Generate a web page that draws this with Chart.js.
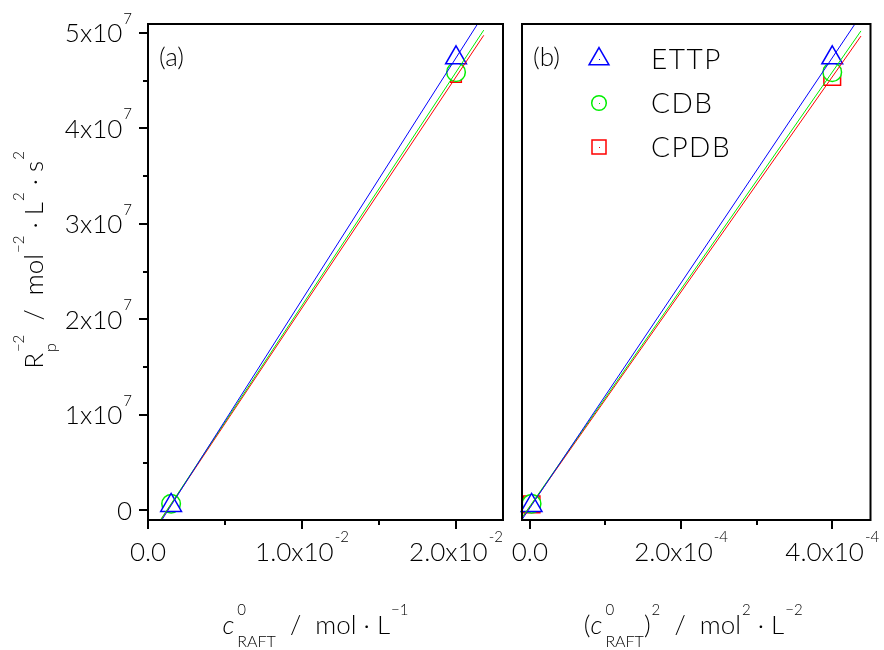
<!DOCTYPE html>
<html>
<head>
<meta charset="utf-8">
<script src="https://cdn.jsdelivr.net/npm/chart.js@4/dist/chart.umd.min.js"></script>
<style>
  html, body { margin: 0; padding: 0; background: #fff; }
  #wrap { position: relative; width: 884px; height: 650px; }
  #wrap canvas { position: absolute; left: 0; top: 0; }
</style>
</head>
<body>
<div id="wrap">
  <canvas id="chartA" width="884" height="650"></canvas>
  <canvas id="chartB" width="884" height="650"></canvas>
</div>
<script>
// Data
const seriesNames = ['ETTP', 'CDB', 'CPDB'];
const cRaft = [0.0015, 0.02];            // c0 RAFT / mol L-1
const cRaftSquared = [2.25e-6, 4.0e-4];  // (c0 RAFT)^2 / mol2 L-2
const rpEttp = [5.3e5, 4.74e7];          // Rp^-2
const rpCdb = [7.0e5, 4.59e7];
const rpCpdb = [6.3e5, 4.54e7];

// Tick values and labels ([mantissa, exponent])
const yTicks = [0, 1e7, 2e7, 3e7, 4e7, 5e7];
const yTickLabels = [['0', ''], ['1x10', '7'], ['2x10', '7'], ['3x10', '7'], ['4x10', '7'], ['5x10', '7']];
const yMinorTicks = [5e6, 1.5e7, 2.5e7, 3.5e7, 4.5e7];
const xTicksA = [0, 0.01, 0.02];
const xTickLabelsA = [['0.0', ''], ['1.0x10', '-2'], ['2.0x10', '-2']];
const xMinorTicksA = [0.005, 0.015];
const xTicksB = [0, 2e-4, 4e-4];
const xTickLabelsB = [['0.0', ''], ['2.0x10', '-4'], ['4.0x10', '-4']];
const xMinorTicksB = [1e-4, 3e-4];

// x span of the fitted lines
const fitRangeA = [0, 0.0218];
const fitRangeB = [-1e-5, 4.38e-4];

const BLUE = '#0000ff', GREEN = '#00ee00', RED = '#ff0000';
const FONT = 'Lato, "Liberation Sans", sans-serif';
const MAIN = 26, SUP = 15, SUB = 16;

// radius per panel: [a, b]
const seriesStyle = [
    { values: rpEttp, color: BLUE, style: 'triangle', radius: [12, 12], legendRadius: 11.5 },
    { values: rpCdb, color: GREEN, style: 'circle', radius: [9.3, 9.3], legendRadius: 7.3 },
    { values: rpCpdb, color: RED, style: 'rect', radius: [7.5, 11.8], legendRadius: 9.9 }
];

// least squares line through the points, evaluated at the range ends
function fitLine(xs, ys, range) {
    const n = xs.length;
    const mx = xs.reduce((a, b) => a + b, 0) / n;
    const my = ys.reduce((a, b) => a + b, 0) / n;
    let sxy = 0, sxx = 0;
    for (let i = 0; i < n; i++) {
        sxy += (xs[i] - mx) * (ys[i] - my);
        sxx += (xs[i] - mx) * (xs[i] - mx);
    }
    const slope = sxy / sxx;
    const intercept = my - slope * mx;
    return range.map(x => ({ x: x, y: intercept + slope * x }));
}

function makeDatasets(xs, range, panel) {
    const sets = [];
    seriesStyle.forEach((s, i) => {
        // markers: white filled, triangle on top
        sets.push({
            label: seriesNames[i],
            data: xs.map((x, j) => ({ x: x, y: s.values[j] })),
            showLine: false,
            pointStyle: s.style,
            pointRadius: s.radius[panel],
            pointBorderColor: s.color,
            pointBackgroundColor: '#fff',
            pointBorderWidth: 1.5,
            order: i + 1,
            clip: false
        });
        // fitted lines drawn over the markers
        sets.push({
            label: seriesNames[i] + ' fit',
            data: fitLine(xs, s.values, range),
            showLine: true,
            borderColor: s.color,
            borderWidth: 1,
            pointRadius: 0,
            fill: false,
            order: -3 + i
        });
    });
    return sets;
}

function font(size, italic) {
    return (italic ? 'italic ' : '') + '300 ' + size + 'px ' + FONT;
}

// parts: plain strings, {it: 'c'} italic, {sup, sub} raised / lowered (stacked)
function richWidth(ctx, parts, size) {
    let w = 0;
    parts.forEach(p => {
        if (typeof p === 'string') { ctx.font = font(size); w += ctx.measureText(p).width; }
        else if (p.it) { ctx.font = font(size, true); w += ctx.measureText(p.it).width + 2; }
        else {
            let w1 = 0, w2 = 0;
            if (p.sup) { ctx.font = font(SUP); w1 = ctx.measureText(p.sup).width + 1; }
            if (p.sub) { ctx.font = font(SUB); w2 = ctx.measureText(p.sub).width + 1; }
            w += Math.max(w1, w2);
        }
    });
    return w;
}

function drawRich(ctx, parts, x, y, size, align) {
    const w = richWidth(ctx, parts, size);
    let cx = align === 'center' ? x - w / 2 : align === 'right' ? x - w : x;
    ctx.textAlign = 'left';
    ctx.textBaseline = 'alphabetic';
    parts.forEach(p => {
        if (typeof p === 'string') {
            ctx.font = font(size);
            ctx.fillText(p, cx, y);
            cx += ctx.measureText(p).width;
        } else if (p.it) {
            ctx.font = font(size, true);
            ctx.fillText(p.it, cx, y);
            cx += ctx.measureText(p.it).width + 2;
        } else {
            let w1 = 0, w2 = 0;
            if (p.sup) {
                ctx.font = font(SUP);
                ctx.fillText(p.sup, cx + 1, y - size * 0.72);
                w1 = ctx.measureText(p.sup).width + 1;
            }
            if (p.sub) {
                ctx.font = font(SUB);
                ctx.fillText(p.sub, cx + 1, y + size * 0.5);
                w2 = ctx.measureText(p.sub).width + 1;
            }
            cx += Math.max(w1, w2);
        }
    });
}

function tickParts(label) {
    return label[1] ? [label[0], { sup: label[1] }] : [label[0]];
}

function makeDecor(cfg) {
    return {
        id: 'decor' + cfg.letter,
        afterDraw(chart) {
            const ctx = chart.ctx;
            const a = chart.chartArea;
            const sx = chart.scales.x, sy = chart.scales.y;
            ctx.save();
            ctx.fillStyle = '#000';
            ctx.strokeStyle = '#000';

            // frame
            ctx.lineWidth = 2;
            ctx.strokeRect(a.left, a.top, a.right - a.left, a.bottom - a.top);

            // outward tick marks
            ctx.beginPath();
            cfg.xTicks.forEach(v => {
                const p = Math.round(sx.getPixelForValue(v));
                ctx.moveTo(p, a.bottom); ctx.lineTo(p, a.bottom + 9);
            });
            cfg.xMinor.forEach(v => {
                const p = Math.round(sx.getPixelForValue(v));
                ctx.moveTo(p, a.bottom); ctx.lineTo(p, a.bottom + 5);
            });
            if (cfg.yAxis) {
                yTicks.forEach(v => {
                    const p = Math.round(sy.getPixelForValue(v));
                    ctx.moveTo(a.left, p); ctx.lineTo(a.left - 9, p);
                });
                yMinorTicks.forEach(v => {
                    const p = Math.round(sy.getPixelForValue(v));
                    ctx.moveTo(a.left, p); ctx.lineTo(a.left - 5, p);
                });
            }
            ctx.stroke();

            // tick labels
            cfg.xTicks.forEach((v, i) => {
                drawRich(ctx, tickParts(cfg.xLabels[i]), sx.getPixelForValue(v), a.bottom + 41, MAIN, 'center');
            });
            if (cfg.yAxis) {
                yTicks.forEach((v, i) => {
                    drawRich(ctx, tickParts(yTickLabels[i]), a.left - 16, sy.getPixelForValue(v) + 9.5, MAIN, 'right');
                });
                // y axis title, rotated
                ctx.save();
                ctx.translate(43, (a.top + a.bottom) / 2 - 12);
                ctx.rotate(-Math.PI / 2);
                drawRich(ctx, ['R', { sup: '\u22122', sub: 'p' }, '  /  mol', { sup: '\u22122' }, ' \u00b7 L', { sup: '2' }, ' \u00b7 s', { sup: '2' }], 0, 0, MAIN, 'center');
                ctx.restore();
            }

            // x axis title
            drawRich(ctx, cfg.xTitle, (a.left + a.right) / 2 + cfg.titleShift, a.bottom + 114, MAIN, 'center');

            // panel letter
            drawRich(ctx, ['(' + cfg.letter + ')'], a.left + 11, a.top + 42, MAIN, 'left');

            // legend
            if (cfg.legend) {
                seriesStyle.forEach((s, i) => {
                    const lx = a.left + 77, ly = a.top + 35 + i * 44;
                    ctx.strokeStyle = s.color;
                    ctx.fillStyle = 'rgba(0,0,0,0)';
                    ctx.lineWidth = 1.5;
                    Chart.helpers.drawPoint(ctx, { pointStyle: s.style, radius: s.legendRadius, rotation: 0, borderWidth: 1.5 }, lx, ly);
                    ctx.fillStyle = s.color;
                    ctx.fillRect(Math.round(lx), Math.round(ly), 1, 1);
                    ctx.fillStyle = '#000';
                    ctx.letterSpacing = '1.5px';
                    drawRich(ctx, [seriesNames[i]], a.left + 129, ly + 10, 28, 'left');
                    ctx.letterSpacing = '0px';
                });
            }
            ctx.restore();
        }
    };
}

function makeChart(id, xs, range, xMin, xMax, padding, panel, cfg) {
    return new Chart(document.getElementById(id), {
        type: 'scatter',
        data: { datasets: makeDatasets(xs, range, panel) },
        options: {
            responsive: false,
            animation: false,
            events: [],
            layout: { padding: padding },
            plugins: { legend: { display: false }, tooltip: { enabled: false } },
            scales: {
                x: { type: 'linear', display: false, min: xMin, max: xMax },
                y: { type: 'linear', display: false, min: -1.0e6, max: 5.094e7 }
            }
        },
        plugins: [makeDecor(cfg)]
    });
}

makeChart('chartA', cRaft, fitRangeA, 0, 0.02305,
    { left: 148, right: 381, top: 24, bottom: 130 }, 0,
    {
        letter: 'a', yAxis: true, legend: false,
        xTicks: xTicksA, xMinor: xMinorTicksA, xLabels: xTickLabelsA,
        xTitle: [{ it: 'c' }, { sup: '0', sub: 'RAFT' }, '  /  mol \u00b7 L', { sup: '\u22121' }],
        titleShift: -10
    });

makeChart('chartB', cRaftSquared, fitRangeB, -1.04e-5, 4.506e-4,
    { left: 522, right: 7, top: 24, bottom: 130 }, 1,
    {
        letter: 'b', yAxis: false, legend: true,
        xTicks: xTicksB, xMinor: xMinorTicksB, xLabels: xTickLabelsB,
        xTitle: ['(', { it: 'c' }, { sup: '0', sub: 'RAFT' }, ')', { sup: '2' }, '  /  mol', { sup: '2' }, ' \u00b7 L', { sup: '\u22122' }],
        titleShift: -3
    });
</script>
</body>
</html>
